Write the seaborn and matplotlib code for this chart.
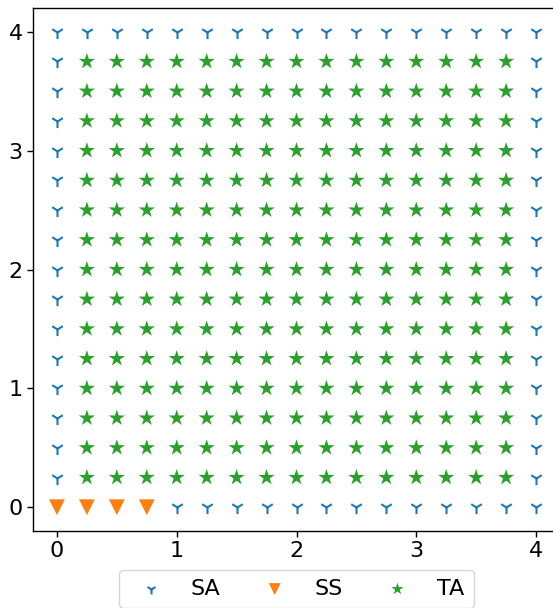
import numpy as np
import pandas as pd
import seaborn as sns
import matplotlib.pyplot as plt

# Grid coordinates (both axes share the same levels)
levels = [0.0, 0.25, 0.5, 0.75, 1.0, 1.25, 1.5, 1.75, 2.0,
          2.25, 2.5, 2.75, 3.0, 3.25, 3.5, 3.75, 4.0]

# Region label at each grid point; rows run from y=4 (top) down to y=0,
# columns from x=0 to x=4.  A = SA, S = SS, T = TA
region_rows = [
    "AAAAAAAAAAAAAAAAA",
    "ATTTTTTTTTTTTTTTA",
    "ATTTTTTTTTTTTTTTA",
    "ATTTTTTTTTTTTTTTA",
    "ATTTTTTTTTTTTTTTA",
    "ATTTTTTTTTTTTTTTA",
    "ATTTTTTTTTTTTTTTA",
    "ATTTTTTTTTTTTTTTA",
    "ATTTTTTTTTTTTTTTA",
    "ATTTTTTTTTTTTTTTA",
    "ATTTTTTTTTTTTTTTA",
    "ATTTTTTTTTTTTTTTA",
    "ATTTTTTTTTTTTTTTA",
    "ATTTTTTTTTTTTTTTA",
    "ATTTTTTTTTTTTTTTA",
    "ATTTTTTTTTTTTTTTA",
    "SSSSAAAAAAAAAAAAA",
]
code_names = {"A": "SA", "S": "SS", "T": "TA"}
categories = ["SA", "SS", "TA"]

records = []
for r, row in enumerate(region_rows):
    yv = levels[len(levels) - 1 - r]
    for c, code in enumerate(row):
        records.append({"x": levels[c], "y": yv, "region": code_names[code]})
df = pd.DataFrame(records)

sns.set_style("ticks")
plt.rcParams["font.family"] = ["DejaVu Sans"]
plt.rcParams["text.color"] = "black"
plt.rcParams["xtick.color"] = "black"
plt.rcParams["ytick.color"] = "black"
plt.rcParams["xtick.labelcolor"] = "black"
plt.rcParams["ytick.labelcolor"] = "black"

fig = plt.figure(figsize=(5.53, 6.08), dpi=100)
ax = fig.add_axes([33 / 553, 77 / 608, 527 / 553, 523 / 608])

palette = {"SA": "#1f77b4", "SS": "#ff7f0e", "TA": "#2ca02c"}
markers = {"SA": "1", "SS": "v", "TA": "*"}
marker_area = {"SA": 90, "SS": 130, "TA": 150}

for cat in categories:
    sub = df[df["region"] == cat]
    if cat == "SA":
        sns.scatterplot(data=sub, x="x", y="y", marker=markers[cat],
                        color=palette[cat], s=marker_area[cat], linewidth=1.5,
                        label=cat, ax=ax)
    else:
        sns.scatterplot(data=sub, x="x", y="y", marker=markers[cat],
                        color=palette[cat], s=marker_area[cat], linewidth=0,
                        edgecolor="none", label=cat, ax=ax)

ax.set_xlim(-0.2, 4.2)
ax.set_ylim(-0.2, 4.2)
ax.set_xticks([0, 1, 2, 3, 4])
ax.set_yticks([0, 1, 2, 3, 4])
ax.set_xlabel("")
ax.set_ylabel("")
ax.tick_params(labelsize=16, length=4, width=1, colors="black")
for sp in ax.spines.values():
    sp.set_linewidth(1.0)
    sp.set_color("black")

ax.legend(loc="upper center", bbox_to_anchor=(0.5, -0.0746), ncol=3,
          fontsize=16, frameon=True, borderaxespad=0, columnspacing=1.45,
          handletextpad=0.8, markerscale=0.75)

fig.savefig("out.png", dpi=100)
